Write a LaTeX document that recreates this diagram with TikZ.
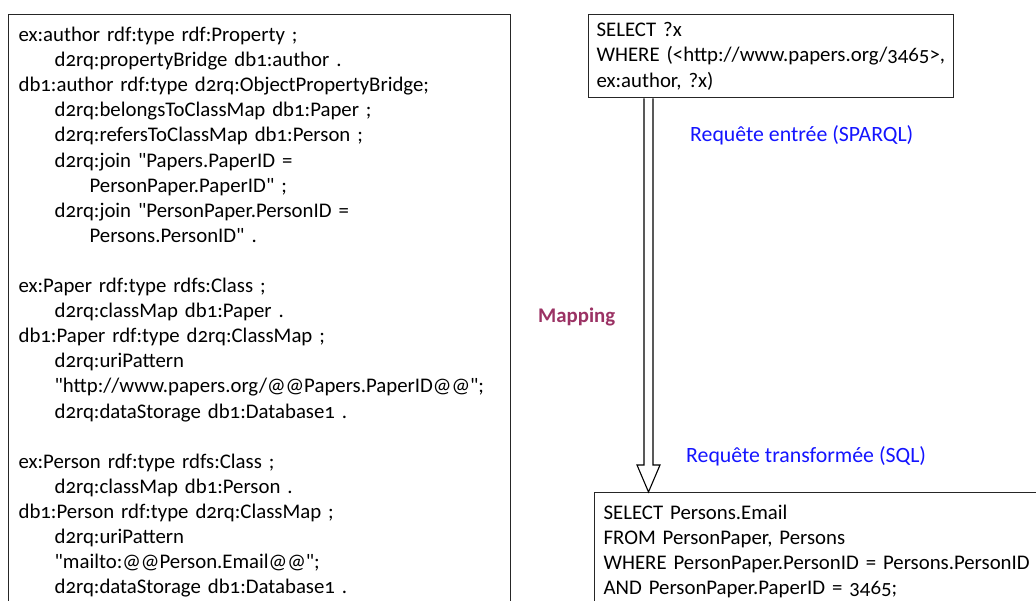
\documentclass[tikz,border=0pt]{standalone}
\usepackage{fontspec}
\newfontfamily\mainf{Carlito}[Numbers=OldStyle]
\usetikzlibrary{calc}
\definecolor{mapc}{RGB}{155,50,100}
\definecolor{reqc}{RGB}{20,20,255}
\newcommand\qq{\symbol{34}}
\begin{document}
\begin{tikzpicture}[x=1pt,y=-1pt,
 box/.style={draw=black!85, line width=1.2pt, align=left, anchor=north west, font=\mainf\fontsize{20.8}{25.1}\selectfont},
 lbl/.style={anchor=base west, font=\mainf\fontsize{21.8}{24}\selectfont, inner sep=0pt},
 arr/.style={draw=black, line width=1.1pt, line join=miter}]
\useasboundingbox (0,0) rectangle (1036,601);
\clip (0,0) rectangle (1036,601);
\fill[white] (0,0) rectangle (1036,601);
\node[box, inner xsep=10pt, inner ysep=12.5pt, text width=482pt] (map) at (8,14) {%
ex:author rdf:type rdf:Property ;\\
\hspace*{36pt}d2rq:propertyBridge db1:author .\\
db1:author rdf:type d2rq:ObjectPropertyBridge;\\
\hspace*{36pt}d2rq:belongsToClassMap db1:Paper ;\\
\hspace*{36pt}d2rq:refersToClassMap db1:Person ;\\
\hspace*{36pt}d2rq:join \qq Papers.PaperID =\\
\hspace*{71pt}PersonPaper.PaperID\qq{} ;\\
\hspace*{36pt}d2rq:join \qq PersonPaper.PersonID =\\
\hspace*{71pt}Persons.PersonID\qq{} .\\
\mbox{}\\
ex:Paper rdf:type rdfs:Class ;\\
\hspace*{36pt}d2rq:classMap db1:Paper .\\
db1:Paper rdf:type d2rq:ClassMap ;\\
\hspace*{36pt}d2rq:uriPattern\\
\hspace*{36pt}\qq http://www.papers.org/@@Papers.PaperID@@\qq;\\
\hspace*{36pt}d2rq:dataStorage db1:Database1 .\\
\mbox{}\\
ex:Person rdf:type rdfs:Class ;\\
\hspace*{36pt}d2rq:classMap db1:Person .\\
db1:Person rdf:type d2rq:ClassMap ;\\
\hspace*{36pt}d2rq:uriPattern\\
\hspace*{36pt}\qq mailto:@@Person.Email@@\qq;\\
\hspace*{36pt}d2rq:dataStorage db1:Database1 .\\
\mbox{}};
\node[box, inner xsep=8pt, inner ysep=8pt, text width=349pt] (q) at (588,14) {%
SELECT ?x\\
WHERE (<http://www.papers.org/3465>,\\
ex:author, ?x)};
\node[box, inner xsep=9pt, inner ysep=12pt, text width=500pt] (r) at (594,492) {%
SELECT Persons.Email\\
FROM PersonPaper, Persons\\
WHERE PersonPaper.PersonID = Persons.PersonID\\
AND PersonPaper.PaperID = 3465;\\
\mbox{}};
\node[lbl, text=reqc] (l1) at (690,142) {Requête entrée (SPARQL)};
\node[lbl, text=mapc, font=\mainf\fontsize{20.8}{24}\selectfont\bfseries] (l2) at (538,323) {Mapping};
\node[lbl, text=reqc] (l3) at (686,462) {Requête transformée (SQL)};
\draw[arr] ($(q.south west)+(56,0)$) -- ($(r.north west)+(50,-27)$) -- ++(-7,0)
  -- ($(r.north west)+(54.5,0)$) -- ++(11.5,-27) -- ++(-7,0) -- ($(q.south west)+(65,0)$);
\end{tikzpicture}
\end{document}
